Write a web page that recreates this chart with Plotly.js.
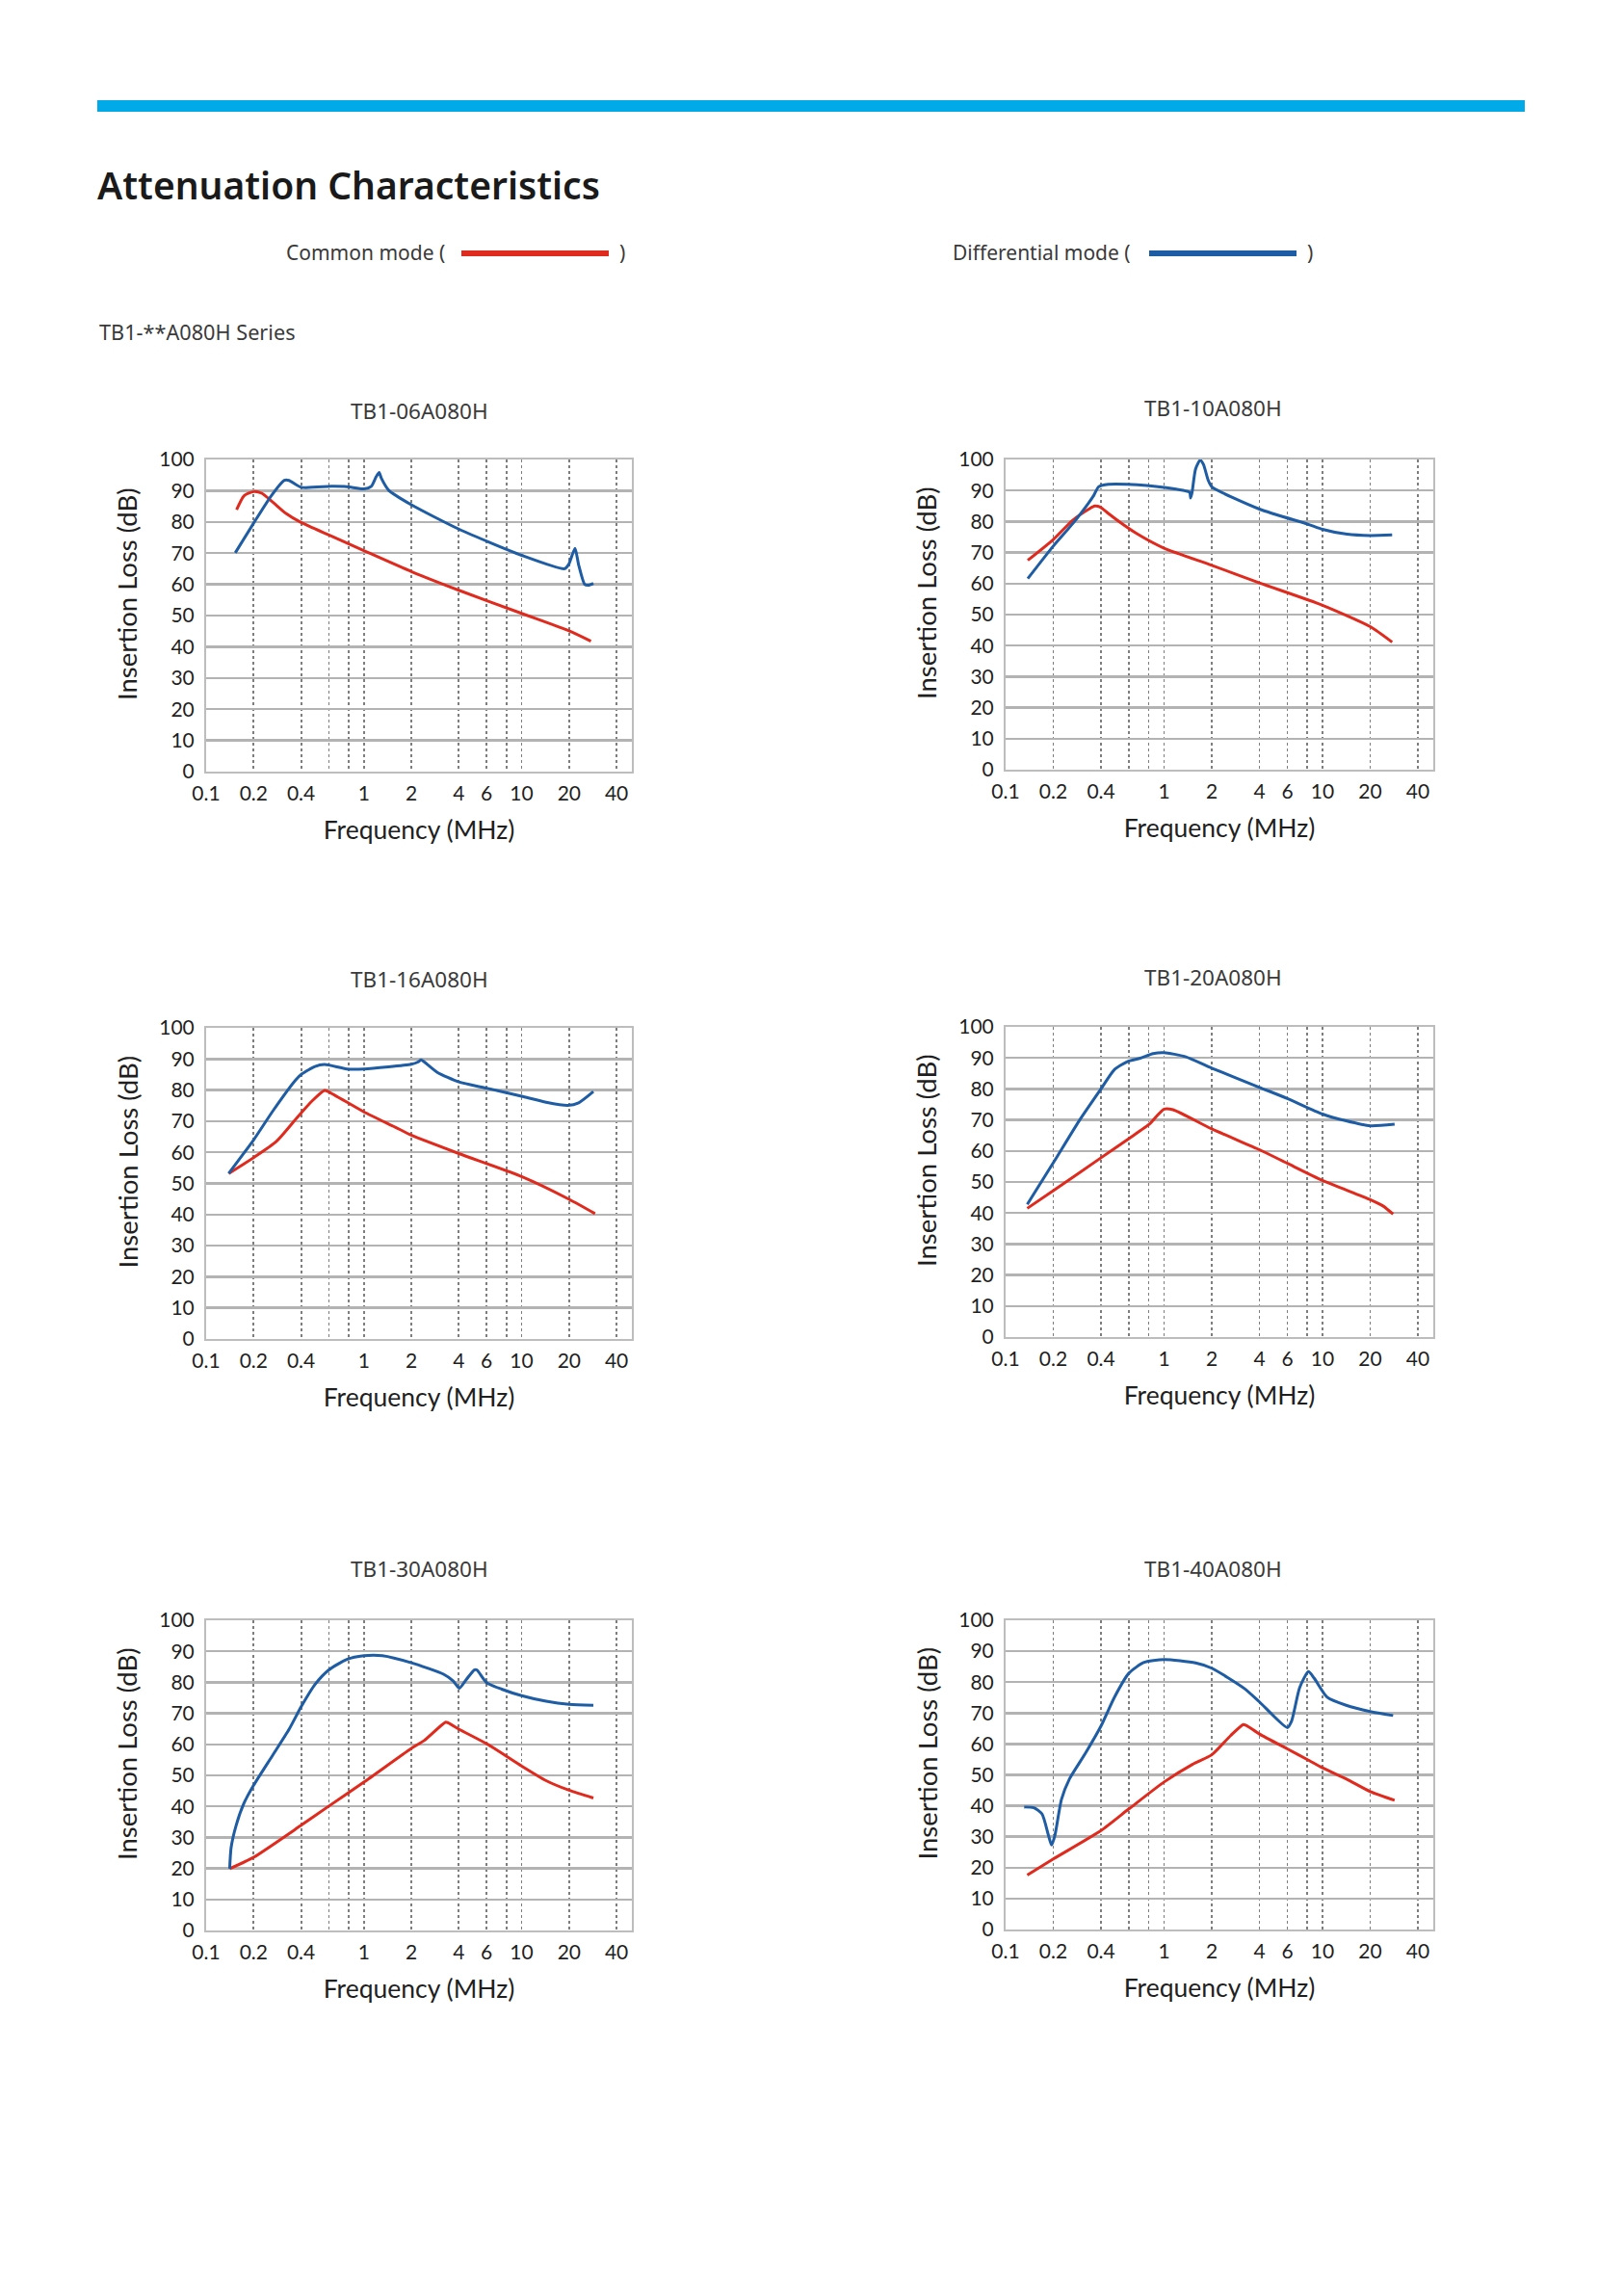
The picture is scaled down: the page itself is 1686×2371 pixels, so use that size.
<!DOCTYPE html>
<html>
<head>
<meta charset="utf-8">
<script src="https://cdn.plot.ly/plotly-3.0.1.min.js"></script>
<style>
  html, body { margin: 0; padding: 0; background: #ffffff; }
  #chart { width: 1686px; height: 2371px; }
</style>
</head>
<body>
<div id="chart"></div>
<script>
// ---------------- DATA ----------------
const chartNames = ["TB1-06A080H", "TB1-10A080H", "TB1-16A080H", "TB1-20A080H", "TB1-30A080H", "TB1-40A080H"];
const seriesNames = ["Common mode", "Differential mode"];
const freqTickVals = [0.1, 0.2, 0.4, 0.6, 0.8, 1, 2, 4, 6, 8, 10, 20, 40];
const freqTickText = ["0.1", "0.2", "0.4", "", "", "1", "2", "4", "6", "", "10", "20", "40"];
const lossTickVals = [0, 10, 20, 30, 40, 50, 60, 70, 80, 90, 100];

// TB1-06A080H
const cm06F  = [0.156, 0.174, 0.2, 0.225, 0.265, 0.321, 0.4, 0.62, 1, 2, 4, 10, 20, 27.5];
const cm06dB = [83.9, 88.4, 89.7, 89.2, 86.3, 82.7, 79.8, 75.5, 70.8, 64.1, 58.1, 50.7, 45.1, 41.8];
const dm06F  = [0.153, 0.2, 0.259, 0.313, 0.335, 0.4, 0.62, 0.78, 1, 1.114, 1.197, 1.25, 1.29, 1.44, 2, 4, 10, 18.7, 19.9, 21.8, 23.0, 25.1, 26.5, 28.5];
const dm06dB = [70.1, 79.6, 88.4, 93.3, 93.3, 91.1, 91.4, 91.3, 90.6, 91.4, 94.5, 95.8, 94.0, 90.1, 85.5, 77.7, 69.3, 65.0, 66.4, 71.5, 66.2, 60.0, 59.7, 60.3];

// TB1-10A080H
const cm10F  = [0.138, 0.2, 0.265, 0.335, 0.365, 0.395, 0.445, 0.536, 0.678, 1, 2, 4, 10, 20, 27.5];
const cm10dB = [67.5, 74.2, 80.4, 84.0, 85.0, 84.7, 82.6, 79.5, 76.0, 71.4, 65.9, 60.2, 53.0, 46.1, 41.1];
const dm10F  = [0.138, 0.2, 0.265, 0.335, 0.36, 0.386, 0.445, 0.589, 1, 1.45, 1.47, 1.5, 1.58, 1.69, 1.77, 1.9, 2, 4, 8.13, 10, 14.3, 20, 27.5];
const dm10dB = [61.6, 72.1, 79.3, 86.1, 88.4, 91.2, 92.0, 92.0, 91.0, 89.4, 87.6, 89.2, 96.9, 99.8, 98.5, 93.3, 91.2, 84.0, 79.1, 77.5, 75.9, 75.5, 75.7];

// TB1-16A080H
const cm16F  = [0.139, 0.2, 0.279, 0.378, 0.467, 0.563, 0.6, 1, 1.58, 2, 4, 10, 20, 29.2];
const cm16dB = [53.2, 58.3, 63.5, 71.2, 76.4, 79.9, 79.4, 73.0, 68.1, 65.5, 59.6, 52.2, 44.9, 40.3];
const dm16F  = [0.139, 0.2, 0.265, 0.369, 0.405, 0.49, 0.563, 0.78, 1, 2, 2.2, 2.3, 2.42, 2.92, 4, 6, 10, 14.3, 19.6, 23, 28.5];
const dm16dB = [53.2, 64.0, 73.3, 83.2, 85.2, 87.6, 88.2, 86.8, 86.8, 88.3, 89.0, 89.7, 89.0, 85.7, 82.6, 80.6, 78.0, 76.1, 75.1, 75.9, 79.5];

// TB1-20A080H
const cm20F  = [0.137, 0.2, 0.4, 0.6, 0.815, 0.897, 1, 1.14, 2, 4, 6, 10, 20, 24.2, 27.9];
const cm20dB = [41.5, 47.2, 57.8, 64.0, 68.8, 71.2, 73.5, 73.3, 67.1, 60.4, 56.0, 50.5, 44.3, 42.2, 39.6];
const dm20F  = [0.137, 0.2, 0.291, 0.4, 0.486, 0.586, 0.707, 0.853, 1, 1.36, 2, 4, 6, 10, 14.1, 20, 28.5];
const dm20dB = [42.8, 56.2, 69.7, 80.0, 86.2, 88.8, 89.9, 91.4, 91.7, 90.4, 86.7, 80.5, 76.9, 71.9, 69.7, 68.1, 68.6];

// TB1-30A080H
const cm30F  = [0.141, 0.2, 0.4, 0.6, 1, 2, 2.42, 3.28, 3.4, 4, 6, 10, 14.3, 20, 28.5];
const cm30dB = [19.9, 23.6, 33.9, 40.1, 47.8, 58.7, 61.3, 67.1, 67.0, 64.9, 60.2, 53.0, 48.3, 45.2, 42.7];
const dm30F  = [0.141, 0.144, 0.155, 0.174, 0.2, 0.265, 0.336, 0.4, 0.49, 0.6, 0.78, 1, 1.31, 2, 3.2, 3.69, 4.02, 4.46, 5.01, 5.2, 6, 7.47, 10, 14.3, 20, 28.5];
const dm30dB = [19.9, 26.7, 33.9, 41.1, 46.8, 56.6, 64.9, 72.1, 79.3, 84.0, 87.4, 88.6, 88.6, 86.3, 82.6, 80.4, 78.1, 80.9, 84.0, 84.0, 79.9, 77.8, 75.7, 73.9, 72.9, 72.6];

// TB1-40A080H
const cm40F  = [0.137, 0.2, 0.4, 0.6, 1, 1.51, 2, 2.63, 3.16, 3.3, 4, 6, 8, 10, 14.1, 20, 28.5];
const cm40dB = [17.6, 22.8, 32.0, 39.0, 47.7, 53.4, 56.5, 62.7, 66.3, 66.0, 63.2, 58.4, 55.0, 52.3, 48.7, 44.6, 41.8];
const dm40F  = [0.131, 0.151, 0.17, 0.186, 0.195, 0.205, 0.225, 0.253, 0.319, 0.4, 0.486, 0.6, 0.742, 1, 1.58, 2, 3.2, 4, 6, 6.38, 7.17, 8.15, 8.85, 10.7, 14.1, 20, 27.9];
const dm40dB = [39.6, 39.4, 37.3, 30.6, 27.3, 30.6, 42.0, 48.7, 57.0, 65.8, 75.1, 82.9, 86.3, 87.3, 86.2, 84.5, 78.0, 73.6, 65.3, 67.4, 78.2, 83.4, 81.3, 75.1, 72.5, 70.5, 69.2];

// ---------------- LAYOUT ----------------
const W = 1686, H = 2371;
const px = v => v / W;
const py = v => 1 - v / H;

const RED = "#DF2A1E";
const BLUE = "#1E5CA3";

// plot boxes in page pixels [left, top, right, bottom]
const boxes = [
  [214, 477, 656, 801],
  [1044, 477, 1488, 799],
  [214, 1067, 656, 1390],
  [1044, 1066, 1488, 1388],
  [214, 1682, 656, 2004],
  [1044, 1682, 1488, 2003]
];
const titlePos = [[435, 426], [1259, 423], [435, 1016], [1259, 1014], [435, 1628], [1259, 1628]];

const chartData = [
  [cm06F, cm06dB, dm06F, dm06dB],
  [cm10F, cm10dB, dm10F, dm10dB],
  [cm16F, cm16dB, dm16F, dm16dB],
  [cm20F, cm20dB, dm20F, dm20dB],
  [cm30F, cm30dB, dm30F, dm30dB],
  [cm40F, cm40dB, dm40F, dm40dB]
];

const traces = [];
const layout = {
  width: W, height: H,
  margin: {l: 0, r: 0, t: 0, b: 0},
  paper_bgcolor: "#ffffff",
  plot_bgcolor: "#ffffff",
  showlegend: false,
  title: {
    text: "Attenuation Characteristics",
    x: px(101), xanchor: "left", xref: "paper",
    y: py(193), yanchor: "middle", yref: "container",
    font: {family: "Noto Sans, sans-serif", size: 39, color: "#1a1a1a", weight: 600}
  },
  annotations: [],
  shapes: []
};

const tickFont = {family: "Lato, sans-serif", size: 21, color: "#1f1f1f"};
const axTitleFont = {family: "Lato, sans-serif", size: 26.5, color: "#1f1f1f"};
const yTitleFont = {family: "Lato, sans-serif", size: 27.5, color: "#1f1f1f"};

chartData.forEach((d, i) => {
  const n = i + 1;
  const xa = n === 1 ? "x" : "x" + n;
  const ya = n === 1 ? "y" : "y" + n;
  const b = boxes[i];
  traces.push({
    x: d[0], y: d[1], xaxis: xa, yaxis: ya, type: "scatter", mode: "lines",
    name: seriesNames[0], line: {color: RED, width: 3, shape: "spline", smoothing: 0.6}
  });
  traces.push({
    x: d[2], y: d[3], xaxis: xa, yaxis: ya, type: "scatter", mode: "lines",
    name: seriesNames[1], line: {color: BLUE, width: 3, shape: "spline", smoothing: 0.6}
  });
  const xKey = n === 1 ? "xaxis" : "xaxis" + n;
  const yKey = n === 1 ? "yaxis" : "yaxis" + n;
  layout[xKey] = {
    type: "log",
    domain: [px(b[0]), px(b[2])],
    anchor: ya,
    range: [-1, Math.log10(50)],
    tickmode: "array",
    tickvals: freqTickVals,
    ticktext: freqTickText,
    ticks: "",
    tickfont: tickFont,
    ticklabelstandoff: 3,
    showgrid: true,
    gridcolor: "#7e7e7e",
    gridwidth: 1.8,
    griddash: "dot",
    showline: true, mirror: true, linecolor: "#bdbdbd", linewidth: 2,
    zeroline: false,
    fixedrange: true,
    title: {text: "Frequency (MHz)", font: axTitleFont, standoff: 18}
  };
  layout[yKey] = {
    domain: [py(b[3]), py(b[1])],
    anchor: xa,
    range: [0, 100],
    tickmode: "array",
    tickvals: lossTickVals,
    ticks: "",
    tickfont: tickFont,
    ticklabelstandoff: 6,
    showgrid: true,
    gridcolor: "#b3b3b3",
    gridwidth: 2.5,
    showline: true, mirror: true, linecolor: "#bdbdbd", linewidth: 2,
    zeroline: false,
    fixedrange: true
  };
  // y-axis title (placed slightly above the plot centre, as in the reference)
  layout.annotations.push({
    text: "Insertion Loss (dB)", xref: "paper", yref: "paper",
    x: px(b[0] - 82.5), y: py((b[1] + b[3]) / 2 - 22.5),
    xanchor: "center", yanchor: "middle", textangle: -90, showarrow: false,
    font: yTitleFont
  });
  layout.annotations.push({
    text: chartNames[i], xref: "paper", yref: "paper",
    x: px(titlePos[i][0]), y: py(titlePos[i][1]),
    xanchor: "center", yanchor: "middle", showarrow: false,
    font: {family: "Noto Sans, sans-serif", size: 22.5, color: "#3a3a3a"}
  });
});

// top blue band
layout.shapes.push({
  type: "rect", xref: "paper", yref: "paper",
  x0: px(101), x1: px(1583), y0: py(116), y1: py(104),
  fillcolor: "#00A9E7", line: {width: 0}
});

// legend (custom)
const legendFont = {family: "Noto Sans, sans-serif", size: 21, color: "#3a3a3a"};
layout.annotations.push(
  {text: "Common mode (", xref: "paper", yref: "paper", x: px(295), y: py(262),
   xanchor: "left", yanchor: "middle", showarrow: false, font: legendFont},
  {text: ")", xref: "paper", yref: "paper", x: px(646), y: py(262),
   xanchor: "center", yanchor: "middle", showarrow: false, font: legendFont},
  {text: "Differential mode (", xref: "paper", yref: "paper", x: px(987), y: py(262),
   xanchor: "left", yanchor: "middle", showarrow: false, font: legendFont},
  {text: ")", xref: "paper", yref: "paper", x: px(1360), y: py(262),
   xanchor: "center", yanchor: "middle", showarrow: false, font: legendFont},
  {text: "TB1-**A080H Series", xref: "paper", yref: "paper", x: px(101), y: py(345),
   xanchor: "left", yanchor: "middle", showarrow: false,
   font: {family: "Noto Sans, sans-serif", size: 21.7, color: "#3a3a3a"}}
);
layout.shapes.push(
  {type: "line", xref: "paper", yref: "paper", x0: px(479), x1: px(632), y0: py(263), y1: py(263),
   line: {color: RED, width: 6}},
  {type: "line", xref: "paper", yref: "paper", x0: px(1193), x1: px(1346), y0: py(263), y1: py(263),
   line: {color: BLUE, width: 6}}
);

Plotly.newPlot("chart", traces, layout, {displayModeBar: false, staticPlot: true});
</script>
</body>
</html>
